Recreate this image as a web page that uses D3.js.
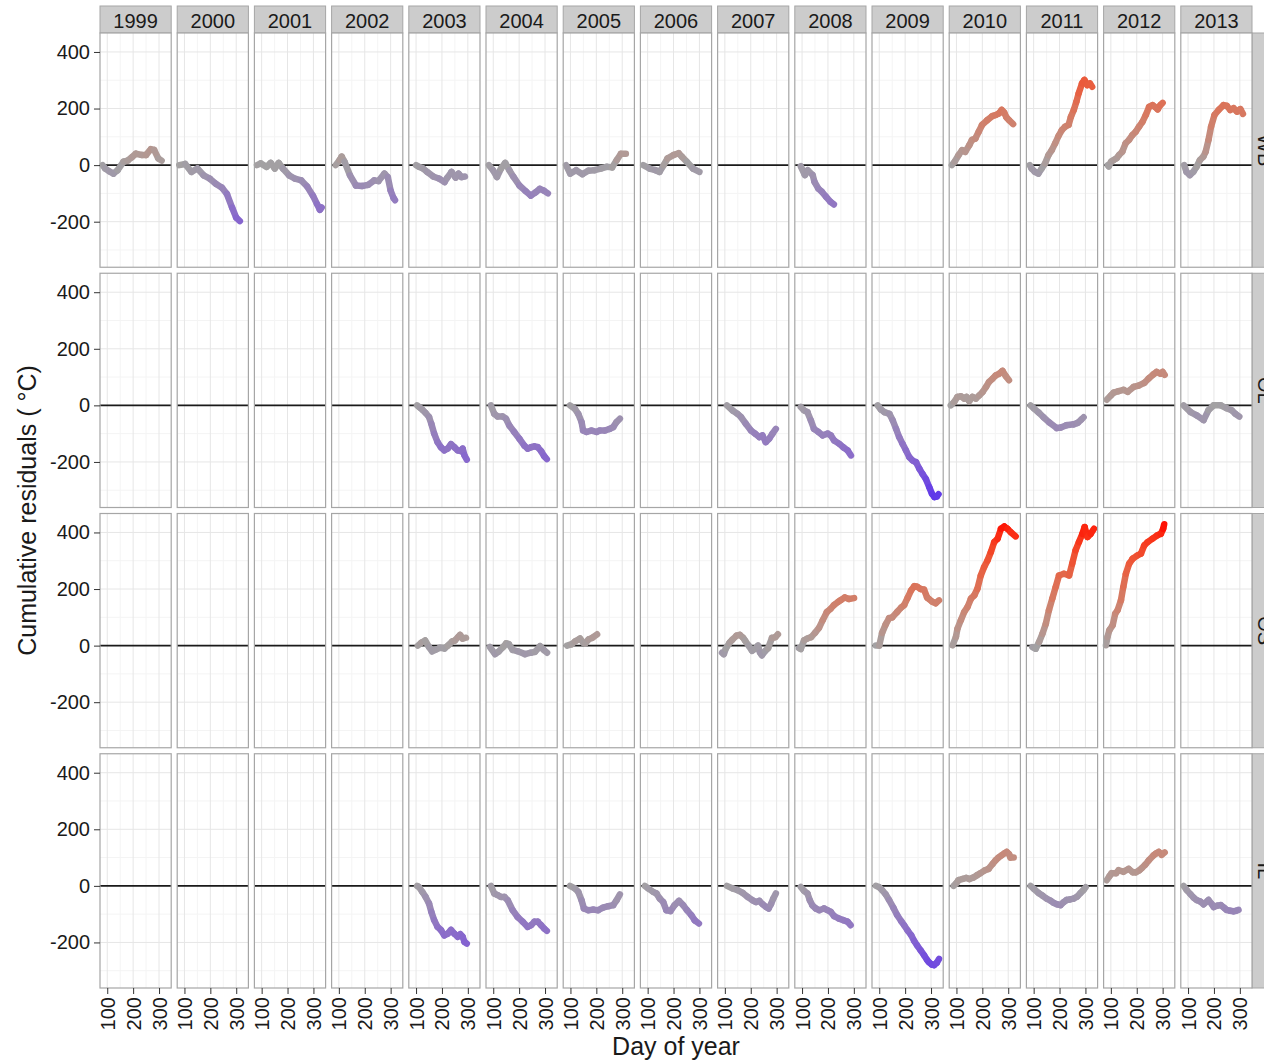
<!DOCTYPE html>
<html>
<head>
<meta charset="utf-8">
<script src="https://cdn.jsdelivr.net/npm/d3@7"></script>
<style>
  body { margin: 0; background: #fff; }
  text { font-family: "Liberation Sans", Arial, Helvetica, sans-serif; }
</style>
</head>
<body>
<svg id="chart"></svg>
<script>
/*
 *  Data: [day of year, cumulative residual]
 *  one array per site, one entry per year, null = no data that year
 */
var years = ["1999","2000","2001","2002","2003","2004","2005","2006","2007","2008","2009","2010","2011","2012","2013"];
var sites = ["WB","OL","OS","IL"];

var xTicks = [100, 200, 300];
var xMinor = [150, 250];
var yTicks = [-200, 0, 200, 400];
var yMinor = [-300, -100, 100, 300];

var wb = [
  [[82,0],[92,-12],[108,-22],[124,-30],[140,-18],[163,12],[179,16],[195,28],[210,40],[234,36],[250,36],[268,56],[281,54],[297,24],[310,16]],
  [[80,0],[103,4],[127,-24],[150,-12],[174,-36],[198,-48],[221,-66],[245,-80],[264,-102],[284,-150],[300,-186],[314,-198]],
  [[82,0],[96,6],[119,-6],[135,8],[151,-12],[166,8],[182,-12],[206,-36],[229,-48],[253,-54],[276,-76],[298,-108],[314,-138],[325,-158],[332,-150]],
  [[88,0],[103,18],[111,30],[122,12],[143,-36],[166,-72],[190,-74],[213,-70],[237,-54],[253,-56],[276,-30],[289,-42],[300,-90],[311,-116],[317,-124]],
  [[100,0],[111,-6],[127,-12],[143,-24],[166,-40],[190,-48],[210,-60],[221,-44],[237,-24],[253,-44],[264,-30],[276,-42],[289,-40]],
  [[83,0],[99,-18],[114,-42],[130,-12],[146,8],[162,-18],[177,-40],[201,-72],[225,-92],[245,-108],[264,-96],[280,-84],[295,-90],[311,-100]],
  [[83,0],[99,-30],[122,-18],[146,-32],[169,-20],[193,-18],[217,-12],[240,-6],[261,-8],[279,18],[295,40],[314,40]],
  [[83,0],[107,-12],[130,-18],[146,-24],[162,0],[177,24],[201,36],[220,42],[232,30],[251,12],[275,-12],[300,-24]],
  null,
  [[95,-4],[111,-35],[122,-18],[141,-35],[148,-59],[163,-83],[176,-94],[193,-112],[210,-130],[223,-139]],
  null,
  [[82,0],[93,12],[108,35],[122,53],[134,47],[150,71],[160,89],[173,94],[186,118],[199,142],[219,159],[238,173],[251,177],[264,183],[275,195],[284,186],[293,169],[303,159],[319,145]],
  [[85,0],[92,-12],[105,-24],[118,-30],[131,-12],[144,6],[157,35],[170,53],[183,77],[196,103],[209,124],[222,136],[235,142],[244,171],[255,195],[265,224],[274,254],[287,289],[296,301],[307,283],[317,289],[326,277]],
  [[88,0],[92,-4],[101,12],[111,18],[122,24],[131,35],[144,47],[157,77],[170,89],[183,106],[196,118],[209,136],[222,153],[235,177],[248,206],[261,212],[270,206],[281,197],[291,212],[300,220]],
  [[85,0],[94,-24],[107,-35],[120,-24],[133,-6],[146,18],[159,30],[168,47],[179,89],[189,136],[202,177],[218,195],[237,212],[250,209],[263,195],[276,201],[289,189],[302,198],[312,181]]
];

var ol = [
  null, null, null, null,
  [[104,0],[115,-8],[124,-15],[137,-27],[150,-41],[159,-65],[170,-100],[183,-130],[196,-148],[209,-159],[222,-153],[235,-137],[248,-148],[261,-159],[274,-162],[280,-153],[287,-177],[296,-192]],
  [[91,0],[104,-30],[117,-39],[136,-39],[149,-47],[162,-71],[181,-94],[201,-118],[220,-142],[233,-153],[246,-148],[259,-145],[272,-148],[285,-162],[297,-180],[307,-190]],
  [[98,0],[117,-12],[130,-30],[143,-59],[149,-89],[162,-94],[181,-89],[201,-94],[213,-89],[233,-89],[252,-83],[265,-77],[278,-59],[291,-47]],
  null,
  [[108,0],[130,-18],[149,-30],[162,-41],[181,-65],[201,-89],[217,-100],[233,-112],[245,-106],[258,-130],[271,-118],[284,-100],[297,-83]],
  [[95,-6],[108,-18],[121,-24],[134,-53],[146,-83],[163,-94],[179,-106],[199,-100],[211,-106],[224,-124],[244,-136],[259,-148],[276,-159],[289,-177]],
  [[94,0],[107,-15],[120,-24],[139,-30],[152,-53],[165,-83],[177,-112],[190,-136],[203,-159],[216,-183],[229,-195],[242,-201],[255,-224],[267,-242],[280,-260],[293,-289],[304,-313],[313,-324],[322,-322],[329,-314]],
  [[78,0],[91,12],[104,30],[117,32],[130,24],[139,30],[149,15],[162,30],[175,24],[188,35],[201,47],[214,65],[226,83],[239,94],[252,106],[265,112],[278,122],[291,103],[303,89]],
  [[88,0],[100,-10],[119,-25],[138,-42],[160,-60],[189,-80],[205,-78],[227,-70],[254,-67],[270,-62],[284,-50],[293,-42]],
  [[84,20],[100,35],[111,45],[130,50],[149,55],[165,48],[188,65],[207,70],[230,80],[246,95],[265,110],[277,118],[292,112],[300,118],[308,108]],
  [[83,0],[110,-24],[133,-35],[160,-52],[179,-17],[199,0],[226,0],[249,-10],[268,-17],[283,-30],[298,-40]]
];

var os = [
  null, null, null, null,
  [[107,0],[120,10],[135,18],[150,-5],[162,-20],[175,-15],[192,-8],[210,-10],[223,0],[240,15],[250,18],[262,30],[270,38],[280,25],[293,28]],
  [[87,-5],[107,-30],[122,-20],[138,-5],[150,8],[160,5],[175,-15],[195,-20],[223,-30],[245,-25],[261,-22],[281,-2],[295,-15],[308,-25]],
  [[87,0],[105,5],[118,15],[137,25],[150,10],[158,8],[170,22],[185,28],[203,40]],
  null,
  [[89,-25],[96,-30],[104,-10],[118,10],[128,20],[145,35],[158,38],[170,28],[178,18],[192,0],[205,-18],[218,-10],[228,0],[236,-25],[243,-34],[255,-20],[267,-9],[282,27],[295,30],[305,40]],
  [[88,-9],[95,-12],[108,19],[120,25],[135,30],[150,45],[165,62],[180,90],[196,119],[210,130],[223,143],[240,155],[250,161],[265,170],[281,165],[301,168]],
  [[87,0],[100,0],[111,45],[125,75],[138,97],[150,100],[169,119],[185,135],[196,143],[210,170],[223,195],[235,210],[246,208],[260,200],[273,198],[285,170],[292,165],[305,155],[318,150],[331,160]],
  [[85,1],[98,31],[104,60],[117,90],[130,119],[143,137],[156,166],[169,178],[181,201],[194,248],[207,278],[220,301],[233,331],[246,366],[259,378],[272,413],[285,421],[297,413],[310,401],[329,386]],
  [[95,-5],[108,-11],[121,13],[134,42],[147,77],[159,125],[172,166],[185,207],[198,248],[217,254],[237,248],[249,290],[262,337],[275,366],[288,395],[297,419],[308,384],[320,395],[333,413]],
  [[81,1],[87,31],[94,54],[107,72],[117,113],[126,125],[139,160],[148,207],[158,254],[171,290],[184,307],[203,319],[216,325],[229,354],[242,366],[261,378],[280,390],[293,395],[302,413],[306,429]],
  null
];

var il = [
  null, null, null, null,
  [[104,0],[111,-4],[124,-21],[137,-39],[150,-62],[159,-92],[170,-121],[183,-145],[196,-156],[209,-175],[222,-169],[235,-156],[248,-169],[261,-180],[271,-171],[280,-180],[287,-198],[296,-204]],
  [[91,0],[104,-27],[117,-33],[130,-39],[143,-39],[156,-51],[175,-86],[194,-110],[214,-127],[233,-145],[246,-139],[259,-127],[272,-127],[285,-139],[297,-151],[307,-159]],
  [[98,0],[117,-9],[130,-21],[143,-51],[152,-80],[169,-86],[188,-84],[207,-86],[226,-77],[246,-72],[265,-68],[278,-51],[291,-30]],
  [[89,0],[102,-9],[121,-21],[134,-27],[147,-45],[160,-57],[172,-86],[188,-89],[204,-68],[221,-53],[237,-68],[252,-86],[269,-104],[282,-122],[298,-133]],
  [[108,0],[130,-9],[149,-15],[169,-25],[188,-39],[207,-51],[220,-57],[233,-53],[246,-65],[258,-74],[269,-80],[278,-65],[287,-45],[297,-27]],
  [[95,-4],[108,-18],[121,-27],[130,-51],[140,-69],[153,-80],[166,-86],[185,-80],[198,-86],[211,-92],[224,-107],[243,-116],[259,-121],[276,-127],[288,-139]],
  [[87,0],[100,-5],[111,-15],[125,-30],[138,-50],[155,-78],[169,-103],[185,-125],[196,-139],[210,-158],[223,-174],[235,-195],[246,-210],[260,-228],[273,-245],[285,-262],[292,-270],[303,-278],[312,-280],[322,-272],[331,-258]],
  [[89,0],[100,10],[108,20],[125,25],[139,28],[150,24],[166,30],[180,38],[193,45],[210,55],[224,60],[240,78],[251,90],[262,100],[274,108],[285,115],[294,120],[303,112],[309,100],[321,100]],
  [[88,0],[100,-10],[119,-25],[135,-35],[150,-45],[165,-52],[177,-60],[190,-65],[204,-68],[215,-58],[227,-50],[240,-48],[254,-45],[268,-38],[281,-25],[292,-15],[301,-5]],
  [[84,20],[95,35],[103,45],[120,45],[130,55],[149,50],[169,60],[185,48],[196,48],[210,55],[219,62],[233,75],[246,90],[265,108],[275,115],[285,120],[296,110],[308,118]],
  [[83,0],[95,-15],[110,-30],[122,-42],[133,-50],[147,-55],[160,-65],[179,-50],[192,-65],[199,-75],[212,-70],[226,-68],[240,-78],[249,-85],[262,-88],[276,-90],[286,-88],[295,-85]]
];

var siteSeries = [wb, ol, os, il];

/*
 *  Layout
 */
var width = 1264, height = 1063;
var plotLeft = 100, plotRight = 1252, plotTop = 33, plotBottom = 988;
var gap = 6, stripH = 27;

var panelW = (plotRight - plotLeft - gap*(years.length-1)) / years.length;
var panelH = (plotBottom - plotTop - gap*(sites.length-1)) / sites.length;

var svg = d3.select("#chart")
  .attr("width", width)
  .attr("height", height)
  .style("background", "#fff");

// shared scales for every panel
var x = d3.scaleLinear().domain([72, 347]).range([0, panelW]);
var y = d3.scaleLinear().domain([-361, 467]).range([panelH, 0]);

// blue - grey - red diverging colour, symmetric around 0
var allVals = [];
siteSeries.forEach(function(s) {
  s.forEach(function(d) { if(d) d.forEach(function(p) { allVals.push(Math.abs(p[1])); }); });
});
var cMax = d3.max(allVals);
var colour = d3.scaleLinear()
  .domain([-cMax, 0, cMax])
  .range(["#0000ff", "#a3a1a3", "#ff0000"])
  .interpolate(d3.interpolateLab)
  .clamp(true);

// plain hyphen for negatives, like the original
var tickFmt = function(d) { return String(d); };

function panelX(c) { return plotLeft + c*(panelW + gap); }
function panelY(r) { return plotTop + r*(panelH + gap); }

// top strips (years)
years.forEach(function(yr, c) {
  var g = svg.append("g").attr("transform", "translate(" + panelX(c) + "," + (plotTop - stripH) + ")");
  g.append("rect")
    .attr("width", panelW).attr("height", stripH)
    .attr("fill", "#cccccc").attr("stroke", "#a6a6a6").attr("stroke-width", 1);
  g.append("text")
    .attr("x", panelW/2).attr("y", 21.5)
    .attr("text-anchor", "middle")
    .attr("font-size", 20).attr("fill", "#1a1a1a")
    .text(yr);
});

// right strips (sites) - these run off the edge of the picture, as in the original
sites.forEach(function(s, r) {
  var g = svg.append("g").attr("transform", "translate(" + plotRight + "," + panelY(r) + ")");
  g.append("rect")
    .attr("width", 30).attr("height", panelH)
    .attr("fill", "#cccccc").attr("stroke", "#a6a6a6").attr("stroke-width", 1);
  g.append("text")
    .attr("transform", "translate(" + 12.5 + "," + (panelH/2) + ") rotate(90)")
    .attr("text-anchor", "middle")
    .attr("dy", "0.35em")
    .attr("font-size", 20).attr("fill", "#1a1a1a")
    .text(s);
});

// panels
sites.forEach(function(s, r) {
  years.forEach(function(yr, c) {
    var g = svg.append("g")
      .attr("transform", "translate(" + panelX(c) + "," + panelY(r) + ")");

    g.append("rect").attr("width", panelW).attr("height", panelH).attr("fill", "#fff");

    // minor grid
    g.selectAll(".xminor").data(xMinor).enter().append("line")
      .attr("x1", x).attr("x2", x).attr("y1", 0).attr("y2", panelH)
      .attr("stroke", "#f4f4f4").attr("stroke-width", 1);
    g.selectAll(".yminor").data(yMinor).enter().append("line")
      .attr("x1", 0).attr("x2", panelW).attr("y1", y).attr("y2", y)
      .attr("stroke", "#f4f4f4").attr("stroke-width", 1);
    // major grid
    g.selectAll(".xmajor").data(xTicks).enter().append("line")
      .attr("x1", x).attr("x2", x).attr("y1", 0).attr("y2", panelH)
      .attr("stroke", "#e6e6e6").attr("stroke-width", 1);
    g.selectAll(".ymajor").data(yTicks).enter().append("line")
      .attr("x1", 0).attr("x2", panelW).attr("y1", y).attr("y2", y)
      .attr("stroke", "#e6e6e6").attr("stroke-width", 1);

    // zero reference line
    g.append("line")
      .attr("x1", 0).attr("x2", panelW)
      .attr("y1", y(0)).attr("y2", y(0))
      .attr("stroke", "#1a1a1a").attr("stroke-width", 1.6);

    // the series, coloured piece by piece by its value
    var series = siteSeries[r][c];
    if(series) {
      g.selectAll(".seg").data(d3.pairs(series)).enter().append("line")
        .attr("x1", function(d) { return x(d[0][0]); })
        .attr("y1", function(d) { return y(d[0][1]); })
        .attr("x2", function(d) { return x(d[1][0]); })
        .attr("y2", function(d) { return y(d[1][1]); })
        .attr("stroke", function(d) { return colour((d[0][1] + d[1][1])/2); })
        .attr("stroke-width", 6.5)
        .attr("stroke-linecap", "round");
    }

    g.append("rect")
      .attr("width", panelW).attr("height", panelH)
      .attr("fill", "none").attr("stroke", "#a6a6a6").attr("stroke-width", 1.2);

    // y axis on the first column
    if(c == 0) {
      var ya = g.append("g")
        .call(d3.axisLeft(y).tickValues(yTicks).tickFormat(tickFmt).tickSize(6).tickPadding(4));
      ya.select(".domain").remove();
      ya.selectAll("line").attr("stroke", "#333");
      ya.selectAll("text").attr("font-size", 20).attr("fill", "#1a1a1a")
        .style("font-family", "'Liberation Sans', Arial, sans-serif");
    }

    // x axis on the bottom row
    if(r == sites.length - 1) {
      var xa = g.append("g")
        .attr("transform", "translate(0," + panelH + ")")
        .call(d3.axisBottom(x).tickValues(xTicks).tickFormat(tickFmt).tickSize(6));
      xa.select(".domain").remove();
      xa.selectAll("line").attr("stroke", "#333");
      xa.selectAll("text")
        .attr("font-size", 20).attr("fill", "#1a1a1a")
        .style("font-family", "'Liberation Sans', Arial, sans-serif")
        .attr("transform", "rotate(-90)")
        .attr("x", -9).attr("y", 0).attr("dy", "0.35em")
        .attr("text-anchor", "end");
    }
  });
});

// axis titles
svg.append("text")
  .attr("x", (plotLeft + plotRight)/2).attr("y", 1055)
  .attr("text-anchor", "middle")
  .attr("font-size", 25).attr("fill", "#1a1a1a")
  .text("Day of year");

svg.append("text")
  .attr("transform", "translate(36," + ((plotTop + plotBottom)/2) + ") rotate(-90)")
  .attr("text-anchor", "middle")
  .attr("font-size", 25).attr("fill", "#1a1a1a")
  .text("Cumulative residuals ( °C)");
</script>
</body>
</html>
